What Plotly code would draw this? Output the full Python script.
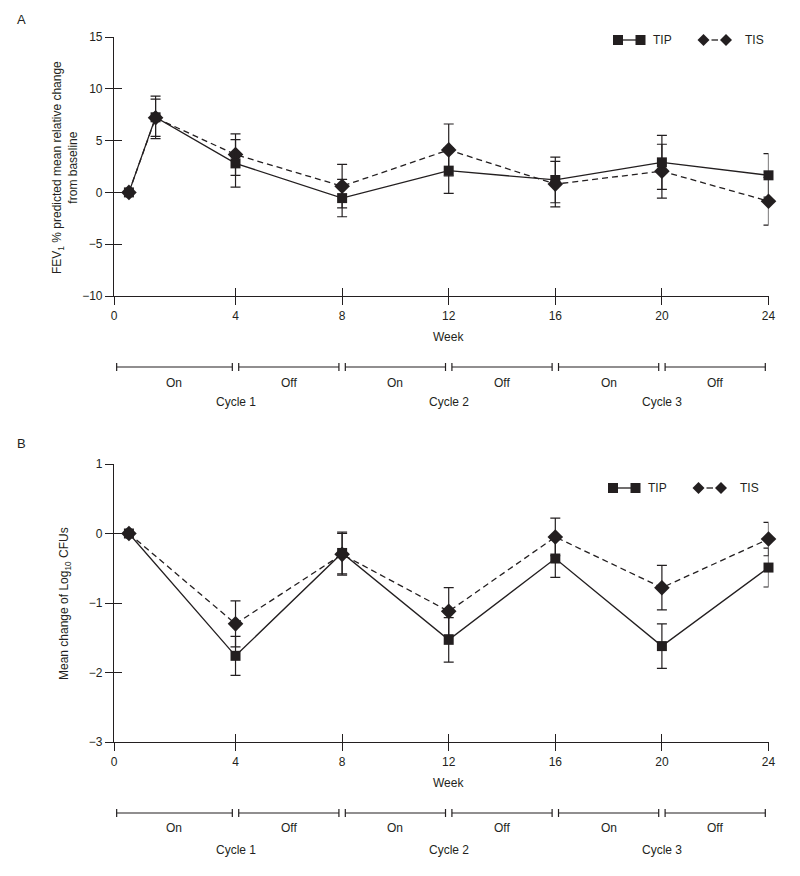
import plotly.graph_objects as go

# ---------------- data ----------------
weeks_A = [0, 1, 4, 8, 12, 16, 20, 24]
tip_A = [0, 7.25, 2.8, -0.55, 2.1, 1.2, 2.9, 1.65]
tip_A_err = [None, 2.05, 2.3, 1.8, 2.2, 2.2, 2.6, 2.1]
tis_A = [0, 7.2, 3.65, 0.6, 4.1, 0.8, 2.05, -0.85]
tis_A_err = [None, 1.8, 2.0, 2.1, 2.5, 2.2, 2.6, 2.3]

weeks_B = [0, 4, 8, 12, 16, 20, 24]
tip_B = [0, -1.76, -0.28, -1.53, -0.36, -1.62, -0.49]
tip_B_err = [None, 0.28, 0.3, 0.32, 0.27, 0.32, 0.28]
tis_B = [0, -1.3, -0.3, -1.12, -0.05, -0.78, -0.08]
tis_B_err = [None, 0.33, 0.3, 0.34, 0.27, 0.32, 0.24]

x_tick_vals = [-0.56, 4, 8, 12, 16, 20, 24]
x_tick_text = ["0", "4", "8", "12", "16", "20", "24"]
yA_ticks = [-10, -5, 0, 5, 10, 15]
yB_ticks = [-3, -2, -1, 0, 1]

phase_bounds = [0, 4, 8, 12, 16, 20, 24]
phase_labels = ["On", "Off", "On", "Off", "On", "Off"]
cycle_labels = ["Cycle 1", "Cycle 2", "Cycle 3"]
series_names = ["TIP", "TIS"]

# ---------------- layout helpers ----------------
W, H = 800, 876
OFF = 8  # page body margin: the plot div starts 8 px in from the window corner
def px(x):
    return (x - OFF) / W
def py(y):
    return 1 - (y - OFF) / H

FONT = "Liberation Sans, Arial, Helvetica, sans-serif"
INK = "#231f20"
X_RANGE = [x_tick_vals[0], 24]
XDOM = [px(114), px(768.5)]
A_DOM = [py(296), py(37)]
B_DOM = [py(742), py(464)]

fig = go.Figure()

def add_series(x, y, err, xa, ya, symbol, dash, size, name):
    fig.add_trace(go.Scatter(
        x=x, y=y, mode="lines+markers", name=name, xaxis=xa, yaxis=ya,
        line=dict(color=INK, width=1.3, dash=dash),
        marker=dict(symbol=symbol, size=size, color=INK, line=dict(width=0)),
        error_y=dict(type="data", array=err, color=INK, thickness=1.2, width=5),
        cliponaxis=False, showlegend=False,
    ))

# draw TIS first, TIP on top
add_series(weeks_A, tis_A, tis_A_err, "x", "y", "diamond", "6px,4px", 12, "TIS")
add_series(weeks_A, tip_A, tip_A_err, "x", "y", "square", "solid", 10, "TIP")
add_series(weeks_B, tis_B, tis_B_err, "x2", "y2", "diamond", "6px,4px", 12, "TIS")
add_series(weeks_B, tip_B, tip_B_err, "x2", "y2", "square", "solid", 10, "TIP")

# empty traces for overlay (inside-tick) axes
fig.add_trace(go.Scatter(x=[None], y=[None], xaxis="x3", yaxis="y3", showlegend=False, hoverinfo="skip"))
fig.add_trace(go.Scatter(x=[None], y=[None], xaxis="x4", yaxis="y4", showlegend=False, hoverinfo="skip"))

tickfont = dict(family=FONT, size=12, color=INK)
base_x = dict(domain=XDOM, range=X_RANGE, tickmode="array", tickvals=x_tick_vals,
              ticktext=x_tick_text, ticks="outside", ticklen=8, tickwidth=1.1,
              tickcolor=INK, showline=True, linecolor=INK, linewidth=1.2,
              showgrid=False, zeroline=False, tickfont=tickfont, fixedrange=True,
              automargin=False)
in_x = dict(range=X_RANGE, tickmode="array", tickvals=x_tick_vals, ticks="inside",
            ticklen=8, tickwidth=1.1, tickcolor=INK, showline=False,
            showticklabels=False, showgrid=False, zeroline=False, automargin=False)

def base_y(dom, rng, tv):
    return dict(domain=dom, range=rng, tickmode="array", tickvals=tv,
                ticks="outside", ticklen=8, tickwidth=1.1, tickcolor=INK,
                showline=True, linecolor=INK, linewidth=1.2, showgrid=False,
                zeroline=False, tickfont=tickfont, fixedrange=True, automargin=False)

def in_y(rng, tv):
    return dict(range=rng, tickmode="array", tickvals=tv, ticks="inside",
                ticklen=8, tickwidth=1.1, tickcolor=INK, showline=False,
                showticklabels=False, showgrid=False, zeroline=False, automargin=False)

fig.update_layout(
    template="none",
    width=W, height=H, margin=dict(l=0, r=0, t=0, b=0, pad=0, autoexpand=False),
    paper_bgcolor="white", plot_bgcolor="rgba(0,0,0,0)",
    font=dict(family=FONT, size=12, color=INK),
    showlegend=False,
    xaxis=dict(**base_x, anchor="y"),
    yaxis=dict(**base_y(A_DOM, [-10, 15], yA_ticks), anchor="x"),
    xaxis2=dict(**base_x, anchor="y2"),
    yaxis2=dict(**base_y(B_DOM, [-3, 1], yB_ticks), anchor="x2"),
    xaxis3=dict(**in_x, overlaying="x", anchor="y"),
    yaxis3=dict(**in_y([-10, 15], yA_ticks), overlaying="y", anchor="x"),
    xaxis4=dict(**in_x, overlaying="x2", anchor="y2"),
    yaxis4=dict(**in_y([-3, 1], yB_ticks), overlaying="y2", anchor="x2"),
)

shapes = []
annotations = []
txt = dict(family=FONT, size=12, color=INK)

def note(text, x, y, xref="paper", **kw):
    d = dict(text=text, x=x, y=y, xref=xref, yref="paper", showarrow=False,
             xanchor="center", yanchor="middle", font=txt)
    d.update(kw)
    annotations.append(d)

def panel_extras(xref, y_week, y_bar, y_phase, y_cycle, y_title_center, y_title, letter, y_letter, legend_y, legend_dx):
    note(letter, px(21), py(y_letter), font=dict(family=FONT, size=13, color=INK))
    note("Week", 12, py(y_week), xref=xref)
    note(y_title, px(65), py(y_title_center), textangle=-90)
    # treatment cycle bars
    gap = 0.12
    cap = 4
    for i, lab in enumerate(phase_labels):
        s = phase_bounds[i] + gap if i > 0 else X_RANGE[0] + 0.1
        e = phase_bounds[i + 1] - gap
        shapes.append(dict(type="line", xref=xref, yref="paper", x0=s, x1=e,
                           y0=py(y_bar), y1=py(y_bar), line=dict(color=INK, width=1.2)))
        for xx in (s, e):
            shapes.append(dict(type="line", xref=xref, yref="paper", x0=xx, x1=xx,
                               y0=py(y_bar - cap), y1=py(y_bar + cap), line=dict(color=INK, width=1.2)))
        note(lab, (s + e) / 2, py(y_phase), xref=xref)
    for k, cl in enumerate(cycle_labels):
        note(cl, phase_bounds[2 * k + 1], py(y_cycle), xref=xref)
    # legend
    cy = legend_y
    s1, s2 = 618 + legend_dx, 640.5 + legend_dx
    shapes.append(dict(type="line", xref="paper", yref="paper", x0=px(s1), x1=px(s2),
                       y0=py(cy), y1=py(cy), line=dict(color=INK, width=1.3)))
    for c in (s1, s2):
        shapes.append(dict(type="rect", xref="paper", yref="paper", x0=px(c - 5), x1=px(c + 5),
                           y0=py(cy + 5), y1=py(cy - 5), fillcolor=INK, line=dict(width=0)))
    note(series_names[0], px(651 + legend_dx), py(cy), xanchor="left")
    d1, d2 = 703.5 + legend_dx, 726 + legend_dx
    shapes.append(dict(type="line", xref="paper", yref="paper", x0=px(d1 + 8), x1=px(d2 - 8),
                       y0=py(cy), y1=py(cy), line=dict(color=INK, width=1.3)))
    for c in (d1, d2):
        path = "M {} {} L {} {} L {} {} L {} {} Z".format(
            px(c - 6), py(cy), px(c), py(cy - 6), px(c + 6), py(cy), px(c), py(cy + 6))
        shapes.append(dict(type="path", xref="paper", yref="paper", path=path,
                           fillcolor=INK, line=dict(width=0)))
    note(series_names[1], px(743 + legend_dx), py(cy), xanchor="left")

panel_extras("x", 337, 367, 383, 402, 167,
             "FEV<sub>1</sub> % predicted mean relative change<br>from baseline",
             "A", 19, 40, 0)
panel_extras("x2", 783, 813, 828, 850, 603,
             "Mean change of Log<sub>10</sub> CFUs",
             "B", 443, 488, -5)

fig.update_layout(shapes=shapes, annotations=annotations)
fig.write_html("out.html")
